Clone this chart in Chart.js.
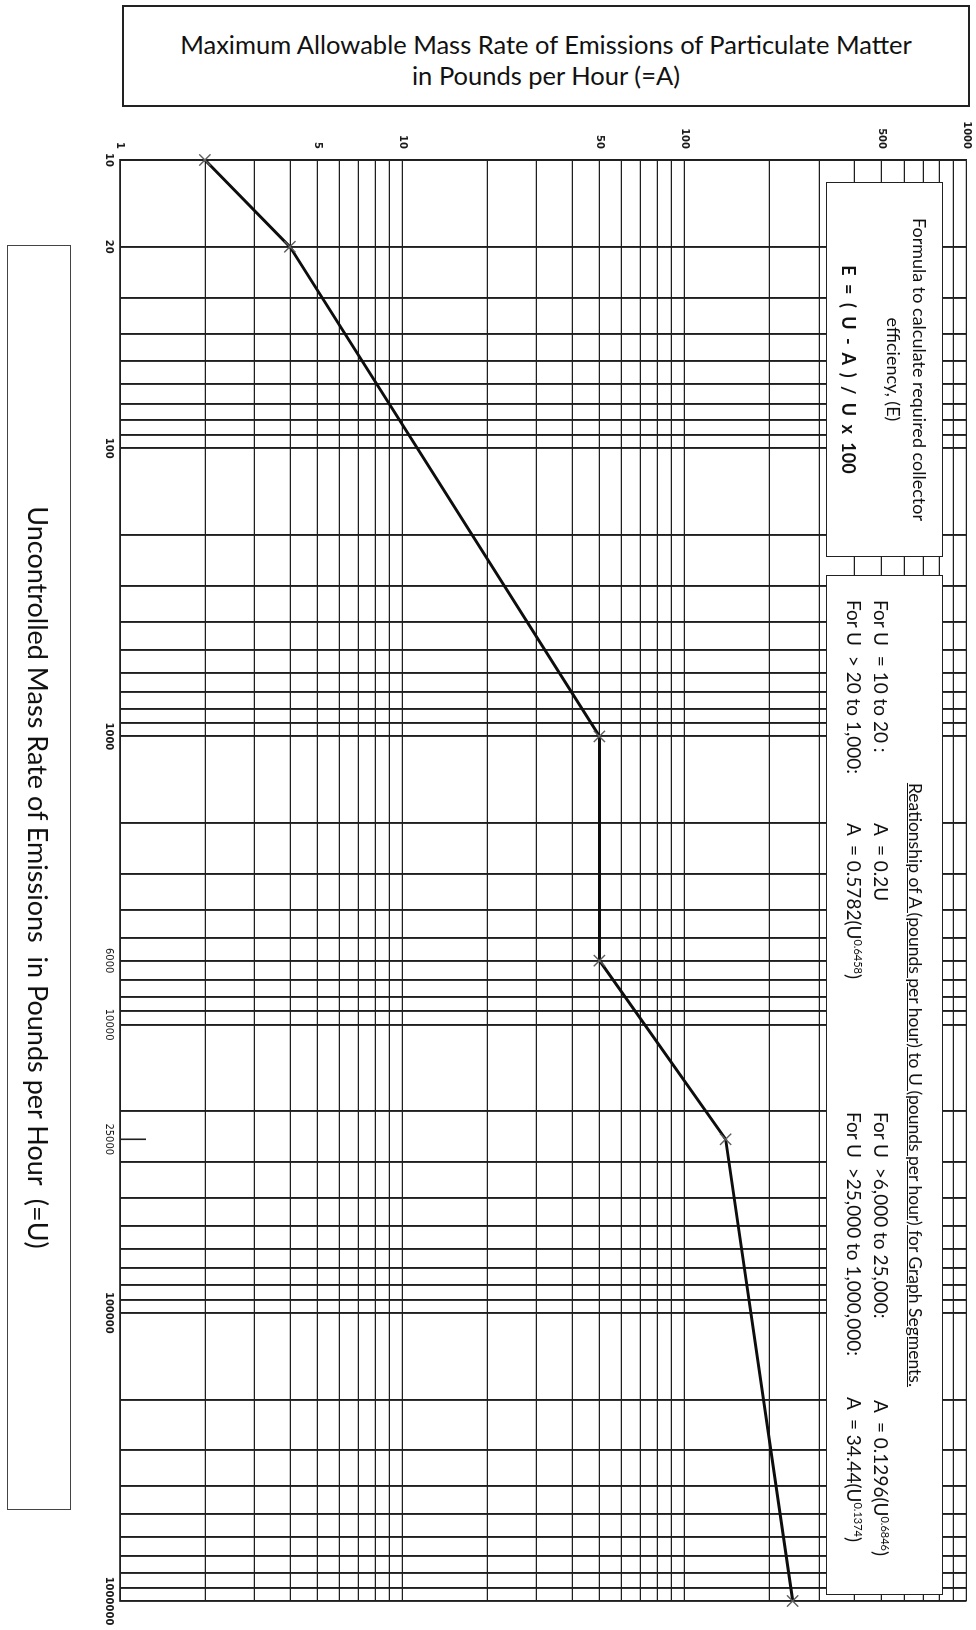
<!DOCTYPE html>
<html>
<head>
<meta charset="utf-8">
<title>Maximum Allowable Mass Rate of Emissions of Particulate Matter</title>
<script src="https://cdn.jsdelivr.net/npm/chart.js@4.4.1/dist/chart.umd.min.js"></script>
<style>
    html, body { margin: 0; padding: 0; background: #fff; overflow: hidden; }
    body { width: 976px; height: 1630px; position: relative; font-family: Lato, 'Open Sans', sans-serif; color: #111; }
    * { box-sizing: border-box; }

    .title-box { position: absolute; left: 122px; top: 5px; width: 848px; height: 102px; border: 2.5px solid #222; }
    .title-box div { position: absolute; left: 0; right: 0; text-align: center; font-size: 25.5px; line-height: 31px; white-space: pre; }

    /* the chart sheet is laid out landscape and turned 90deg clockwise */
    #sheet { position: absolute; left: 0; top: 0; width: 1630px; height: 976px; transform-origin: 0 0; transform: translate(976px, 0) rotate(90deg); }
    #chart { position: absolute; left: 0; top: 0; }

    .box { position: absolute; background: #fff; border: 1.5px solid #222; }
    .box span { position: absolute; white-space: pre; line-height: 1.2; }
    .box sup { font-size: 11px; vertical-align: 7px; line-height: 0; }

    .u-title { left: 245px; top: 905px; width: 1265px; height: 64px; border-color: #444;
               display: flex; align-items: center; justify-content: center; font-size: 27px; white-space: pre; }
    .formula { left: 182px; top: 33px; width: 375px; height: 117px; font-size: 18px; }
    .formula span { left: 0; right: 0; text-align: center; }
    .relation { left: 575px; top: 33px; width: 1020px; height: 117px; font-size: 19px; }
</style>
</head>
<body>

<div class="title-box">
    <div style="top: 22px;">Maximum Allowable Mass Rate of Emissions of Particulate Matter</div>
    <div style="top: 53px;">in Pounds per Hour (=A)</div>
</div>

<div id="sheet">
    <canvas id="chart" width="1630" height="976"></canvas>

    <div class="box u-title">Uncontrolled Mass Rate of Emissions  in Pounds per Hour  (=U)</div>

    <div class="box formula">
        <span style="top: 12px;">Formula to calculate required collector</span>
        <span style="top: 38px;">efficiency, (E)</span>
        <span style="top: 83px; font-weight: bold; word-spacing: 4px;">E = ( U - A ) / U x 100</span>
    </div>

    <div class="box relation">
        <span style="top: 16px; left: 0; right: 0; text-align: center; font-size: 17.5px; text-decoration: underline;">Reationship of A (pounds per hour) to U (pounds per hour) for Graph Segments.</span>
        <span style="top: 50px; left: 24px;">For U  = 10 to 20 :</span>
        <span style="top: 50px; left: 247px;">A  = 0.2U</span>
        <span style="top: 77px; left: 24px;">For U  &gt; 20 to 1,000:</span>
        <span style="top: 77px; left: 247px;">A  = 0.5782(U<sup>0.6458</sup>)</span>
        <span style="top: 50px; left: 536px;">For U  &gt;6,000 to 25,000:</span>
        <span style="top: 50px; left: 824px;">A  = 0.1296(U<sup>0.6846</sup>)</span>
        <span style="top: 77px; left: 536px;">For U  &gt;25,000 to 1,000,000:</span>
        <span style="top: 77px; left: 821px;">A  = 34.44(U<sup>0.1374</sup>)</span>
    </div>
</div>

<script>
// --- DATA ---
// U = uncontrolled rate (lb/hr), A = allowable rate (lb/hr), read off the graph vertices
const uValues = [10, 20, 1000, 6000, 25000, 1000000];
const aValues = [2, 4, 50, 50, 140, 242];

// log paper rulings
const uGrid = [
    10, 20, 30, 40, 50, 60, 70, 80, 90,
    100, 200, 300, 400, 500, 600, 700, 800, 900,
    1000, 2000, 3000, 4000, 5000, 6000, 7000, 8000, 9000,
    10000, 20000, 30000, 40000, 50000, 60000, 70000, 80000, 90000,
    100000, 200000, 300000, 400000, 500000, 600000, 700000, 800000, 900000,
    1000000
];
const aGrid = [
    1, 2, 3, 4, 5, 6, 7, 8, 9,
    10, 20, 30, 40, 50, 60, 70, 80, 90,
    100, 200, 300, 400, 500, 600, 700, 800, 900,
    1000
];

const uTickLabels = [10, 20, 100, 1000, 6000, 10000, 25000, 100000, 1000000];
const uLightLabels = [6000, 10000, 25000];
const uMarkOnly = [25000]; // short tick, no ruling
const aTickLabels = [1, 5, 10, 50, 100, 500, 1000];

const ink = '#1f1f1f';

// short inward tick marks for values that have a label but no ruling
const markPlugin = {
    id: 'uMarks',
    afterDatasetsDraw(chart) {
        const { ctx, chartArea, scales } = chart;
        ctx.save();
        ctx.strokeStyle = ink;
        ctx.lineWidth = 1.6;
        uMarkOnly.forEach(v => {
            const x = scales.x.getPixelForValue(v);
            ctx.beginPath();
            ctx.moveTo(x, chartArea.bottom);
            ctx.lineTo(x, chartArea.bottom - 26);
            ctx.stroke();
        });
        ctx.restore();
    }
};

new Chart(document.getElementById('chart'), {
    type: 'line',
    data: {
        datasets: [{
            data: uValues.map((u, i) => ({ x: u, y: aValues[i] })),
            borderColor: '#0d0d0d',
            borderWidth: 3,
            tension: 0,
            clip: false,
            pointStyle: 'crossRot',
            pointRadius: 8,
            pointBorderColor: '#5e5e5e',
            pointBorderWidth: 1.4,
            pointBackgroundColor: '#5e5e5e'
        }]
    },
    options: {
        responsive: false,
        animation: false,
        layout: { padding: { left: 120, right: 29, top: 9, bottom: 90 } },
        plugins: { legend: { display: false }, tooltip: { enabled: false } },
        scales: {
            x: {
                type: 'logarithmic',
                min: 10,
                max: 1000000,
                afterBuildTicks: s => {
                    s.ticks = uGrid.concat(uMarkOnly).sort((a, b) => a - b).map(v => ({ value: v }));
                },
                afterFit: s => { s.height = 30; s.paddingLeft = 0; s.paddingRight = 0; },
                grid: {
                    drawTicks: false,
                    lineWidth: 1.9,
                    color: c => (c.tick && uMarkOnly.includes(c.tick.value)) ? 'rgba(0,0,0,0)' : ink
                },
                border: { display: true, color: ink, width: 1.8 },
                ticks: {
                    autoSkip: false,
                    maxRotation: 0,
                    minRotation: 0,
                    padding: 5,
                    color: '#1a1a1a',
                    font: c => ({
                        family: 'DejaVu Sans',
                        size: 10,
                        weight: (c.tick && uLightLabels.includes(c.tick.value)) ? 'normal' : 'bold'
                    }),
                    callback: v => uTickLabels.includes(v) ? String(v) : ''
                }
            },
            y: {
                type: 'logarithmic',
                min: 1,
                max: 1000,
                afterBuildTicks: s => { s.ticks = aGrid.map(v => ({ value: v })); },
                afterFit: s => { s.width = 40; s.paddingTop = 0; s.paddingBottom = 0; },
                grid: { drawTicks: false, lineWidth: 1.3, color: ink },
                border: { display: true, color: ink, width: 1.8 },
                ticks: {
                    autoSkip: false,
                    padding: 11,
                    color: '#1a1a1a',
                    font: { family: 'DejaVu Sans', size: 10, weight: 'bold' },
                    callback: v => aTickLabels.includes(v) ? String(v) : ''
                }
            }
        }
    },
    plugins: [markPlugin]
});
</script>
</body>
</html>
